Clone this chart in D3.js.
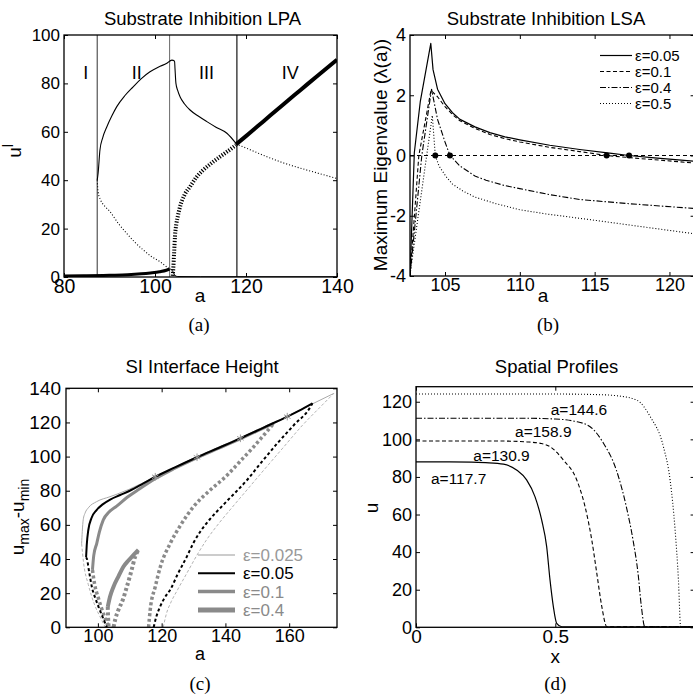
<!DOCTYPE html>
<html><head><meta charset="utf-8">
<script src="https://cdn.jsdelivr.net/npm/d3@7"></script>
<style>body{margin:0;background:#fff}</style>
</head><body>
<script>
// ---------------- DATA ----------------
// Panel (a): Substrate Inhibition LPA
const lpaBoundaries = [87.3, 103.2, 118.0];
const lpaBoundaryColors = ["#444", "#777", "#000"];
const lpaRegionLabels = ["I", "II", "III", "IV"];
const lpaRegionA = [84.8, 96.0, 111.3, 129.7];
const lpaRegionU = 82;
const lpaUpperA = [87.3, 87.5, 87.9, 88.5, 89.4, 90.5, 91.6, 93.4, 95.2, 97, 98.9, 100.8, 102.6, 103.7, 104.3, 104.4, 104.6, 105, 105.5, 106.5, 107.7, 109.5, 111.4, 113.5, 115.8, 117.8];
const lpaUpperU = [40, 43, 52.5, 57.5, 62, 66.5, 70.4, 75, 78.6, 82, 84.8, 86.8, 88.3, 89.6, 89.2, 86, 80, 77, 74.5, 71.5, 69, 66.5, 64.2, 61.8, 59.4, 55.2];
const lpaLowerA = [87.3, 87.5, 88, 89, 90.1, 92, 93.8, 95.5, 97.4, 99.2, 101.1, 103.2];
const lpaLowerU = [40, 35, 32, 29.2, 27, 22, 18, 14.5, 11.2, 8.5, 6.3, 3.2];
const lpaLowA = [80, 85, 90, 94, 97, 99, 101, 102.5, 103.2];
const lpaLowU = [0.4, 0.5, 0.7, 0.9, 1.3, 1.7, 2.2, 2.8, 3.3];
const lpaHookA = [103.2, 103.6, 104.0, 104.4, 105, 110, 140];
const lpaHookU = [3.3, 3.1, 2.0, 0.6, 0.2, 0.1, 0.1];
const lpaThickDotA = [103.9, 104.0, 104.2, 104.4, 104.7, 105.0, 105.5, 106.5, 107.7, 109, 110.6, 112.5, 114.3, 116, 117.8];
const lpaThickDotU = [0.5, 3, 10, 17, 22, 25, 29, 34, 37.3, 41, 44.2, 47.2, 49.7, 52, 54.5];
const lpaTailDotA = [117.8, 120, 124.6, 128, 131.9, 136, 140];
const lpaTailDotU = [55, 53.3, 49.7, 47.3, 45, 42.8, 40.7];
const lpaThickA = [117.8, 120, 124, 128, 132, 136, 140];
const lpaThickU = [54.8, 58.2, 64.6, 71, 77.3, 83.6, 89.8];
const lpaXTicks = [80, 100, 120, 140];
const lpaYTicks = [0, 20, 40, 60, 80, 100];

// Panel (b): Substrate Inhibition LSA
const lsaLabels = ["ε=0.05", "ε=0.1", "ε=0.4", "ε=0.5"];
const lsaA1 = [102.66, 102.95, 103.35, 104.05, 104.2, 104.5, 105, 105.5, 106, 107, 108, 109, 110, 112, 114, 116, 117.3, 119, 121.7];
const lsaL1 = [-4.0, 0.1, 1.8, 3.72, 2.85, 2.2, 1.72, 1.42, 1.2, 0.95, 0.76, 0.62, 0.52, 0.34, 0.2, 0.08, 0, -0.08, -0.19];
const lsaA2 = [102.66, 103.25, 104.06, 104.5, 105, 105.5, 106, 107, 108, 109, 110, 112, 114, 115.8, 118, 121.7];
const lsaL2 = [-4.0, 0, 2.16, 1.95, 1.62, 1.36, 1.15, 0.9, 0.7, 0.56, 0.45, 0.27, 0.13, 0, -0.1, -0.25];
const lsaA3 = [102.66, 103.45, 104.1, 104.5, 105, 105.33, 106, 107, 107.74, 109, 110, 112, 114, 117.3, 121.7];
const lsaL3 = [-4.0, 0, 2.2, 1.2, 0.45, 0, -0.35, -0.68, -0.82, -1.0, -1.1, -1.3, -1.46, -1.6, -1.76];
const lsaA4 = [102.66, 104.15, 104.35, 104.6, 105.07, 105.5, 106.2, 107, 108.4, 110, 111.75, 113, 115, 118.4, 121.7];
const lsaL4 = [-3.95, 1.33, 0, -0.35, -0.7, -0.95, -1.18, -1.38, -1.6, -1.8, -1.94, -2.02, -2.15, -2.38, -2.6];
const lsaZeroA = [104.35, 105.33, 115.8, 117.3];
const lsaXTicks = [105, 110, 115, 120];
const lsaYTicks = [-4, -2, 0, 2, 4];

// Panel (c): SI Interface Height
const sihLabels = ["ε=0.025", "ε=0.05", "ε=0.1", "ε=0.4"];
const sih025SolidA = [94.9, 95.1, 95.4, 96, 97, 99.6, 103.8, 106, 110, 118, 131, 145, 159, 167, 174];
const sih025SolidU = [49, 56, 63, 67, 70, 73.6, 76.5, 78, 81, 88.2, 99.4, 110.7, 123.3, 130.6, 137];
const sih025LeftA = [94.9, 95.5, 97, 99, 101, 102.3];
const sih025LeftU = [49, 38, 25, 13, 5, 0];
const sih025RightA = [120.5, 121.5, 123, 125, 128, 131, 134, 138, 142, 147, 152, 158, 164, 170, 174];
const sih025RightU = [0, 8, 15, 22, 32, 42, 51, 61, 70, 81, 92, 105, 118, 129.5, 137];
const sih05SolidA = [96.3, 96.5, 97, 98, 99.6, 101.5, 104, 107, 110, 114, 118, 124, 131.1, 138, 144.7, 152, 159.4, 163, 167.3];
const sih05SolidU = [41, 48, 57, 64, 68.7, 72, 75, 77.5, 80, 84, 88.2, 93.5, 99.6, 105.2, 110.7, 117, 123.4, 126.8, 131.2];
const sih05LeftA = [96.3, 96.5, 97.3, 98.1, 99.2, 100.2, 101.5, 102.8];
const sih05LeftU = [41, 40.4, 32, 23.8, 17, 12, 6, 0];
const sih05RightA = [117.5, 118.3, 119.5, 121, 122.7, 125, 127.9, 130, 132.1, 135, 140, 146.8, 151, 156.3, 161.5, 166.7, 167.3];
const sih05RightU = [0, 6, 12, 17.5, 22, 31, 41.4, 49.5, 56, 63, 73, 86.3, 96, 107.8, 118.5, 129.2, 131.2];
const sih1SolidA = [98.3, 98.7, 99.65, 100.5, 101.7, 103.5, 105.9, 109.1, 113, 118, 124, 131, 138, 145, 150, 155.2];
const sih1SolidU = [33.6, 42, 49.2, 56, 62.9, 67.5, 71, 76, 81, 87, 93, 99.3, 105, 110.7, 115, 119.5];
const sih1LeftA = [98.3, 99, 100, 101, 102.3, 103.4];
const sih1LeftU = [33.6, 25, 18, 12, 5, 0];
const sih1RightA = [115.9, 116.4, 118, 119.6, 122.7, 126, 130, 135, 140.5, 144.5, 148.9, 152, 155.2];
const sih1RightU = [0, 10, 23.8, 35.5, 49.2, 60, 70.7, 80, 89, 97, 105.8, 112.5, 119.5];
const sih4SolidA = [103.1, 103.8, 104.9, 106.5, 108, 109.5, 110.7, 112.7];
const sih4SolidU = [12, 17.9, 23.8, 30, 35.5, 39, 41.4, 45.3];
const sih4RightA = [104.9, 105.5, 106.4, 107.8, 109.1, 110.5, 111.7, 112.7];
const sih4RightU = [0, 5, 10, 16, 23.8, 33, 41.4, 45.3];
const sih4LeftA = [103.1, 103.2, 103.4];
const sih4LeftU = [12, 6, 0];
const sihMarkA = [118, 131.1, 144.7, 159.4];
const sihMarkU = [88.2, 99.6, 110.7, 123.4];
const sihXTicks = [100, 120, 140, 160];
const sihYTicks = [0, 20, 40, 60, 80, 100, 120, 140];

// Panel (d): Spatial Profiles
const profLabels = ["a=117.7", "a=130.9", "a=158.9", "a=144.6"];
const prof1X = [0, 0.2, 0.25, 0.314, 0.361, 0.397, 0.427, 0.451, 0.469, 0.481, 0.493, 0.505, 0.523, 0.6, 1];
const prof1U = [88, 87.9, 87.6, 86.8, 83.7, 78.4, 69.5, 57.1, 42.9, 25.2, 11, 2.1, 0.3, 0.2, 0.2];
const prof2X = [0, 0.3, 0.4, 0.45, 0.481, 0.529, 0.577, 0.607, 0.631, 0.649, 0.667, 0.685, 0.75, 1];
const prof2U = [99.1, 99.1, 98.6, 97.8, 96.1, 89, 78.4, 64.1, 46.4, 28.7, 11, 0.3, 0.2, 0.2];
const prof3X = [0, 0.4, 0.5, 0.57, 0.625, 0.673, 0.719, 0.755, 0.779, 0.797, 0.809, 0.821, 0.9, 1];
const prof3U = [111.2, 111.2, 110.8, 109.6, 106.7, 97.9, 83.7, 64.1, 46.4, 28.7, 11, 0.3, 0.2, 0.2];
const prof4X = [0, 0.5, 0.65, 0.72, 0.792, 0.841, 0.888, 0.912, 0.93, 0.942, 0.95, 0.97, 1];
const prof4U = [124.1, 124.1, 123.8, 123.2, 120.9, 112, 96.1, 78.4, 51.8, 25.2, 0.3, 0.2, 0.2];
const profLabelX = [0.153, 0.307, 0.457, 0.585];
const profLabelU = [76.5, 88.6, 101, 113.1];
const profXTicks = [0, 0.5, 1];
const profXTickLabels = ["0", "0.5", ""];
const profYTicks = [0, 20, 40, 60, 80, 100, 120];

// ---------------- DRAWING ----------------
const SANS = "'Liberation Sans', Arial, Helvetica, sans-serif";
const SERIF = "'Liberation Serif', 'Times New Roman', serif";
const svg = d3.select('body').append('svg').attr('width', 693).attr('height', 698)
  .style('background', '#fff').style('display', 'block');
svg.append('rect').attr('width', 693).attr('height', 698).attr('fill', '#fff');

function zip(a, b) { return a.map((v, i) => [v, b[i]]); }

function makePanel(o) {
  const x = d3.scaleLinear().domain(o.xd).range([o.l, o.r]);
  const y = d3.scaleLinear().domain(o.yd).range([o.b, o.t]);
  const g = svg.append('g');
  const id = 'clip' + o.id;
  svg.append('clipPath').attr('id', id).append('rect')
    .attr('x', o.l).attr('y', o.t).attr('width', o.r - o.l).attr('height', o.b - o.t);
  const plot = g.append('g').attr('clip-path', `url(#${id})`);
  const fmt = o.xf || (d => String(d));
  const yfmt = o.yf || (d => d < 0 ? '-' + Math.abs(d) : String(d));
  const axB = g.append('g').attr('transform', `translate(0,${o.b})`)
    .call(d3.axisBottom(x).tickValues(o.xt).tickSize(-4).tickPadding(o.xpad).tickFormat(fmt));
  const axL = g.append('g').attr('transform', `translate(${o.l},0)`)
    .call(d3.axisLeft(y).tickValues(o.yt).tickSize(-4).tickPadding(o.ypad).tickFormat(yfmt));
  const axT = g.append('g').attr('transform', `translate(0,${o.t})`)
    .call(d3.axisTop(x).tickValues(o.xt).tickSize(-4).tickFormat(''));
  const axR = g.append('g').attr('transform', `translate(${o.r},0)`)
    .call(d3.axisRight(y).tickValues(o.yt).tickSize(-4).tickFormat(''));
  [axB, axL, axT, axR].forEach(a => {
    a.select('.domain').remove();
    a.selectAll('line').attr('stroke', '#000').attr('stroke-width', 1);
    a.selectAll('text').attr('font-family', SANS).attr('fill', '#000');
  });
  axB.selectAll('text').attr('font-size', o.xfs);
  axL.selectAll('text').attr('font-size', o.yfs);
  g.append('rect').attr('x', o.l).attr('y', o.t).attr('width', o.r - o.l).attr('height', o.b - o.t)
    .attr('fill', 'none').attr('stroke', '#000').attr('stroke-width', 1.3);
  return { x, y, plot, g };
}

function drawLine(p, xs, ys, style, curve) {
  const line = d3.line().x(d => p.x(d[0])).y(d => p.y(d[1])).curve(curve || d3.curveMonotoneX);
  const path = p.plot.append('path').datum(zip(xs, ys)).attr('d', line)
    .attr('fill', 'none').attr('stroke', style.color || '#000')
    .attr('stroke-width', style.w || 1).attr('stroke-linejoin', 'round');
  if (style.dash) path.attr('stroke-dasharray', style.dash);
  return path;
}

function text(x, y, s, size, opts = {}) {
  return svg.append('text').attr('x', x).attr('y', y).text(s)
    .attr('font-family', opts.family || SANS).attr('font-size', size)
    .attr('text-anchor', opts.anchor || 'middle').attr('fill', opts.color || '#000');
}

// ----- Panel (a)
const pa = makePanel({ id: 'a', l: 64, r: 337, t: 35, b: 277, xd: [80, 140], yd: [0, 100],
  xt: lpaXTicks, yt: lpaYTicks, xpad: 2, ypad: 4, xfs: 19.5, yfs: 17 });
lpaBoundaries.forEach((a, i) => {
  pa.plot.append('line').attr('x1', pa.x(a)).attr('x2', pa.x(a)).attr('y1', pa.y(0)).attr('y2', pa.y(100))
    .attr('stroke', lpaBoundaryColors[i]).attr('stroke-width', 1.1);
});
lpaRegionLabels.forEach((s, i) => {
  pa.g.append('text').attr('x', pa.x(lpaRegionA[i])).attr('y', pa.y(lpaRegionU)).text(s)
    .attr('font-family', SANS).attr('font-size', 18).attr('text-anchor', 'middle');
});
drawLine(pa, lpaUpperA, lpaUpperU, { w: 1.1 });
drawLine(pa, lpaLowerA, lpaLowerU, { w: 1.1, dash: '1,2' });
drawLine(pa, lpaLowA, lpaLowU, { w: 3 });
drawLine(pa, lpaHookA, lpaHookU, { w: 1 });
drawLine(pa, lpaThickDotA, lpaThickDotU, { w: 4, dash: '1.2,1.6' });
drawLine(pa, lpaTailDotA, lpaTailDotU, { w: 1.1, dash: '1,2' });
drawLine(pa, lpaThickA, lpaThickU, { w: 4 });
text(200, 302, 'a', 19);
text(202.5, 25, 'Substrate Inhibition LPA', 18.5);
{
  const t = svg.append('text').attr('transform', 'translate(21,151) rotate(-90)')
    .attr('font-family', SANS).attr('font-size', 19).attr('text-anchor', 'middle');
  t.append('tspan').text('u');
  t.append('tspan').attr('dy', -8).attr('font-size', 14).text('l');
}
text(199, 331, '(a)', 19, { family: SERIF });

// ----- Panel (b)
const pb = makePanel({ id: 'b', l: 410, r: 694.6, t: 35, b: 276, xd: [102.66, 121.68], yd: [-4, 4],
  xt: lsaXTicks, yt: lsaYTicks, xpad: 2, ypad: 4, xfs: 18, yfs: 18 });
pb.plot.append('line').attr('x1', pb.x(102.66)).attr('x2', pb.x(121.68)).attr('y1', pb.y(0)).attr('y2', pb.y(0))
  .attr('stroke', '#000').attr('stroke-width', 1).attr('stroke-dasharray', '4,3');
const lsaStyles = [{ w: 1.2 }, { w: 1.1, dash: '4,2.5' }, { w: 1.1, dash: '6,2,1.5,2' }, { w: 1.1, dash: '1,2' }];
drawLine(pb, lsaA1, lsaL1, lsaStyles[0], d3.curveLinear);
drawLine(pb, lsaA2, lsaL2, lsaStyles[1], d3.curveLinear);
drawLine(pb, lsaA3, lsaL3, lsaStyles[2], d3.curveLinear);
drawLine(pb, lsaA4, lsaL4, lsaStyles[3], d3.curveLinear);
pb.plot.selectAll('circle.z').data(lsaZeroA).join('circle').attr('class', 'z')
  .attr('cx', d => pb.x(d)).attr('cy', pb.y(0)).attr('r', 3).attr('fill', '#000');
lsaLabels.forEach((s, i) => {
  const yy = 55.5 + i * 16;
  const l = svg.append('line').attr('x1', 600).attr('x2', 632).attr('y1', yy).attr('y2', yy)
    .attr('stroke', '#000').attr('stroke-width', lsaStyles[i].w);
  if (lsaStyles[i].dash) l.attr('stroke-dasharray', lsaStyles[i].dash);
  text(635, yy + 5, s, 15, { anchor: 'start' });
});
text(543, 302, 'a', 19);
text(546, 25, 'Substrate Inhibition LSA', 18.5);
svg.append('text').attr('transform', 'translate(387,155) rotate(-90)').text('Maximum Eigenvalue (λ(a))')
  .attr('font-family', SANS).attr('font-size', 19).attr('text-anchor', 'middle');
text(548, 331, '(b)', 19, { family: SERIF });

// ----- Panel (c)
const pc = makePanel({ id: 'c', l: 66, r: 337, t: 388.3, b: 627.3, xd: [90, 175], yd: [0, 140],
  xt: sihXTicks, yt: sihYTicks, xpad: 2, ypad: 5, xfs: 18, yfs: 19 });
const G = '#8a8a8a';
drawLine(pc, sih025LeftA, sih025LeftU, { color: '#aaa', w: 0.9, dash: '3,2' });
drawLine(pc, sih025RightA, sih025RightU, { color: '#aaa', w: 0.9, dash: '3,2' });
drawLine(pc, sih025SolidA, sih025SolidU, { color: '#aaa', w: 1 });
drawLine(pc, sih1LeftA, sih1LeftU, { color: G, w: 3.5, dash: '3,2.5' });
drawLine(pc, sih1RightA, sih1RightU, { color: G, w: 3.5, dash: '3,2.5' });
drawLine(pc, sih1SolidA, sih1SolidU, { color: G, w: 3 });
drawLine(pc, sih4SolidA, sih4SolidU, { color: G, w: 4 });
drawLine(pc, sih4RightA, sih4RightU, { color: G, w: 4, dash: '3,2.5' });
drawLine(pc, sih4LeftA, sih4LeftU, { color: G, w: 4, dash: '3,2.5' });
drawLine(pc, sih05LeftA, sih05LeftU, { w: 2, dash: '3,2.5' });
drawLine(pc, sih05RightA, sih05RightU, { w: 2, dash: '3,2.5' });
drawLine(pc, sih05SolidA, sih05SolidU, { w: 2 });
pc.plot.selectAll('path.mk').data(zip(sihMarkA, sihMarkU)).join('path').attr('class', 'mk')
  .attr('transform', d => `translate(${pc.x(d[0])},${pc.y(d[1])})`)
  .attr('d', d3.symbol(d3.symbolAsterisk, 40)).attr('fill', 'none').attr('stroke', '#999').attr('stroke-width', 1);
const sihLegStyles = [{ c: '#999', w: 1, tc: '#999' }, { c: '#000', w: 2, tc: '#000' }, { c: G, w: 3.5, tc: G }, { c: G, w: 5, tc: G }];
sihLabels.forEach((s, i) => {
  const yy = 555 + i * 18.3;
  svg.append('line').attr('x1', 198).attr('x2', 235).attr('y1', yy).attr('y2', yy)
    .attr('stroke', sihLegStyles[i].c).attr('stroke-width', sihLegStyles[i].w);
  text(243, yy + 6, s, 17, { anchor: 'start', color: sihLegStyles[i].tc });
});
text(200, 660, 'a', 18);
text(202, 373, 'SI Interface Height', 18.5);
{
  const t = svg.append('text').attr('transform', 'translate(24,517) rotate(-90)')
    .attr('font-family', SANS).attr('font-size', 19).attr('text-anchor', 'middle');
  t.append('tspan').text('u');
  t.append('tspan').attr('dy', 5).attr('font-size', 14).text('max');
  t.append('tspan').attr('dy', -5).text('-u');
  t.append('tspan').attr('dy', 5).attr('font-size', 14).text('min');
}
text(200, 690, '(c)', 19, { family: SERIF });

// ----- Panel (d)
const pd = makePanel({ id: 'd', l: 416, r: 694.6, t: 386.7, b: 627.3, xd: [0, 1], yd: [0, 128],
  xt: profXTicks, yt: profYTicks, xpad: 2, ypad: 4, xfs: 19, yfs: 18,
  xf: (d, i) => profXTickLabels[i] });
const profStyles = [{ w: 1.2 }, { w: 1.1, dash: '4,2.5' }, { w: 1.1, dash: '6,2,1.5,2' }, { w: 1.1, dash: '1,2' }];
drawLine(pd, prof1X, prof1U, profStyles[0]);
drawLine(pd, prof2X, prof2U, profStyles[1]);
drawLine(pd, prof3X, prof3U, profStyles[2]);
drawLine(pd, prof4X, prof4U, profStyles[3]);
profLabels.forEach((s, i) => {
  pd.g.append('text').attr('x', pd.x(profLabelX[i])).attr('y', pd.y(profLabelU[i])).text(s)
    .attr('font-family', SANS).attr('font-size', 15.5).attr('text-anchor', 'middle');
});
text(555.3, 663, 'x', 19);
text(556.5, 373, 'Spatial Profiles', 18.5);
svg.append('text').attr('transform', 'translate(378,508) rotate(-90)').text('u')
  .attr('font-family', SANS).attr('font-size', 19).attr('text-anchor', 'middle');
text(555.3, 690, '(d)', 19, { family: SERIF });
</script>
</body></html>
